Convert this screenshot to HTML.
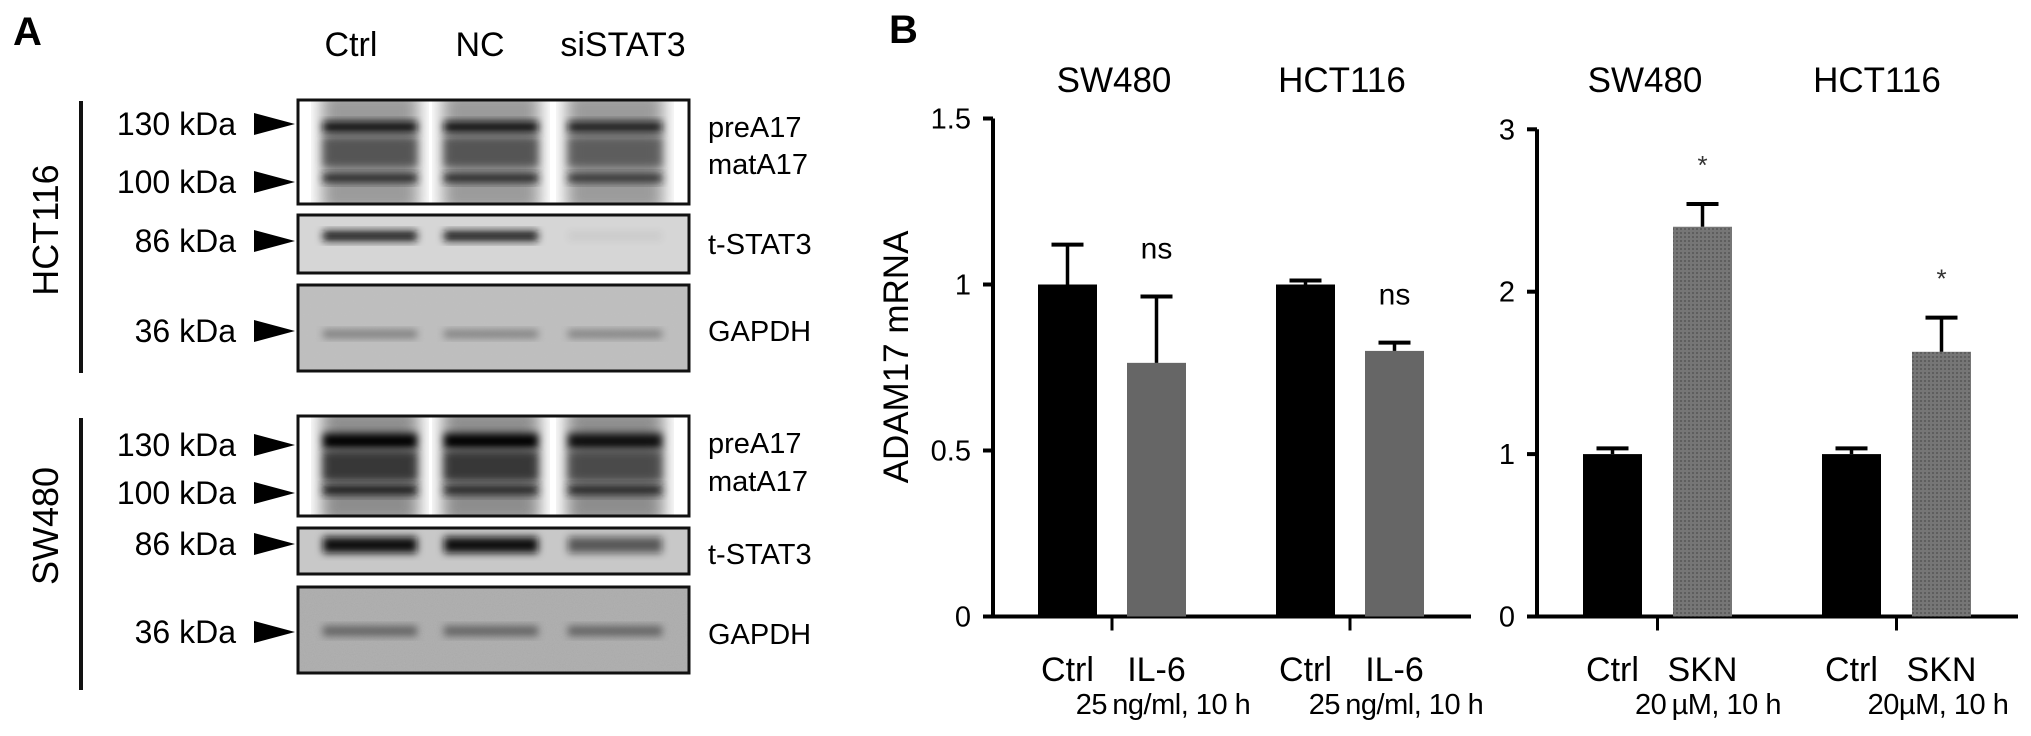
<!DOCTYPE html>
<html><head><meta charset="utf-8">
<style>
html,body{margin:0;padding:0;background:#fff;}
svg{display:block;font-family:"Liberation Sans",Arial,sans-serif;}
</style></head>
<body>
<svg id="fig" width="2031" height="736" viewBox="0 0 2031 736" xmlns="http://www.w3.org/2000/svg">
<defs>
  <filter id="blur3" x="-10%" y="-50%" width="120%" height="200%"><feGaussianBlur stdDeviation="4"/></filter>
  <filter id="blur6" x="-10%" y="-50%" width="120%" height="200%"><feGaussianBlur stdDeviation="8"/></filter>
  <filter id="noise" x="0" y="0" width="100%" height="100%">
    <feTurbulence type="fractalNoise" baseFrequency="0.9" numOctaves="2" seed="3"/>
    <feColorMatrix type="matrix" values="0 0 0 0 0.55  0 0 0 0 0.55  0 0 0 0 0.55  0 0 0 0.35 0"/>
  </filter>
  <pattern id="hatch" width="4" height="4" patternUnits="userSpaceOnUse">
    <rect width="4" height="4" fill="#767676"/><rect width="2" height="2" fill="#5e5e5e"/>
  </pattern>
</defs>

<!-- Panel A -->
<text x="13" y="45" font-size="40" font-weight="bold">A</text>
<text x="351" y="56" font-size="34" text-anchor="middle">Ctrl</text>
<text x="480" y="56" font-size="34" text-anchor="middle">NC</text>
<text x="623" y="56" font-size="34" text-anchor="middle">siSTAT3</text>

<rect x="79" y="101" width="4" height="272" fill="#111"/>
<text transform="translate(58,230) rotate(-90)" font-size="36" text-anchor="middle">HCT116</text>
<rect x="79" y="418" width="4" height="272" fill="#111"/>
<text transform="translate(58,526) rotate(-90)" font-size="36" text-anchor="middle">SW480</text>

<g id="blots"></g>
<g id="markers"></g>

<!-- Panel B -->
<text x="889" y="43" font-size="40" font-weight="bold">B</text>
<text transform="translate(908,357) rotate(-90)" font-size="35" text-anchor="middle">ADAM17 mRNA</text>
<text x="1114" y="92" font-size="35" text-anchor="middle">SW480</text>
<text x="1342" y="92" font-size="35" text-anchor="middle">HCT116</text>
<text x="1645" y="92" font-size="35" text-anchor="middle">SW480</text>
<text x="1877" y="92" font-size="35" text-anchor="middle">HCT116</text>
<g id="chart"></g>

<script>
const NS="http://www.w3.org/2000/svg";
// ---- Chart data ----
const leftCategories=["SW480 Ctrl","SW480 IL-6","HCT116 Ctrl","HCT116 IL-6"];
const leftValues=[1.00,0.764,1.00,0.80];
const leftErrors=[0.12,0.20,0.012,0.025];
const leftSig=["","ns","","ns"];
const leftTicks=[0,0.5,1,1.5];
const leftTickLabels=["0","0.5","1","1.5"];
const rightCategories=["SW480 Ctrl","SW480 SKN","HCT116 Ctrl","HCT116 SKN"];
const rightValues=[1.00,2.40,1.00,1.63];
const rightErrors=[0.035,0.14,0.035,0.21];
const rightSig=["","*","","*"];
const rightTicks=[0,1,2,3];
const rightTickLabels=["0","1","2","3"];
const leftXLabels=["Ctrl","IL-6","Ctrl","IL-6"];
const rightXLabels=["Ctrl","SKN","Ctrl","SKN"];
const leftSub=["25\u2009ng/ml, 10 h","25\u2009ng/ml, 10 h"];
const rightSub=["20\u2009\u00b5M, 10 h","20\u00b5M, 10 h"];

const chart=document.getElementById('chart');
function mk(tag,attrs,parent){const e=document.createElementNS(NS,tag);for(const k in attrs)e.setAttribute(k,attrs[k]);(parent||chart).appendChild(e);return e;}
const BASE=616.5;
function yL(v){return BASE-v*332;}
function yR(v){return BASE-v*162.4;}
function xL(i){return 1038+Math.floor(i/2)*238+(i%2)*89;}
function xR(i){return 1583+Math.floor(i/2)*239+(i%2)*90;}
const BW=59;

function drawChart(values,errors,sig,ticks,tickLabels,xf,yf,axisX,axisEnd,fills,prefix,xlabels,subs,subX){
  let ax=mk('line',{x1:axisX,y1:yf(ticks[ticks.length-1]),x2:axisX,y2:BASE,stroke:'#000','stroke-width':4});
  
  
  let xa=mk('line',{x1:axisX-10,y1:BASE,x2:axisEnd,y2:BASE,stroke:'#000','stroke-width':4});
  
  
  ticks.forEach((t,i)=>{
    let tk=mk('line',{x1:axisX-10,y1:yf(t),x2:axisX,y2:yf(t),stroke:'#000','stroke-width':4});
    
    
    let tl=mk('text',{x:axisX-22,y:yf(t)+10,'font-size':29,'text-anchor':'end'});
    tl.textContent=tickLabels[i];
    
    
  });
  values.forEach((v,i)=>{
    const x=xf(i),top=yf(v),errTop=yf(v+errors[i]),cx=x+BW/2;
    let b=mk('rect',{x:x,y:top,width:BW,height:BASE-top,fill:fills[i%2]});
    
    
    let el=mk('line',{x1:cx,y1:top,x2:cx,y2:errTop,stroke:'#000','stroke-width':3.5});
    
    
    let cap=mk('line',{x1:cx-16,y1:errTop,x2:cx+16,y2:errTop,stroke:'#000','stroke-width':4});
    
    
    if(sig[i]){
      const isStar=sig[i]==='*';
      let s=mk('text',{x:cx,y:errTop-(isStar?30:38),'font-size':isStar?26:30,'text-anchor':'middle',fill:isStar?'#333':'#000'});
      s.textContent=sig[i];
      
      
    }
    let xl=mk('text',{x:cx,y:681,'font-size':34,'text-anchor':'middle'});
    xl.textContent=xlabels[i];
    
    
  });
  for(let g=0;g<2;g++){
    const mx=(xf(2*g)+BW+xf(2*g+1))/2;
    let tk=mk('line',{x1:mx,y1:BASE,x2:mx,y2:BASE+14,stroke:'#000','stroke-width':3});
    
    
    let st=mk('text',{x:subX[g],y:714,'font-size':29,'text-anchor':'middle','letter-spacing':'-0.5'});
    st.textContent=subs[g];
    
    
  }
}
drawChart(leftValues,leftErrors,leftSig,leftTicks,leftTickLabels,xL,yL,993,1471,['#000','#666'],'left',leftXLabels,leftSub,[1163,1396]);
drawChart(rightValues,rightErrors,rightSig,rightTicks,rightTickLabels,xR,yR,1537,2018,['#000','url(#hatch)'],'right',rightXLabels,rightSub,[1708,1938]);

// ---- Western blots ----
const blots=document.getElementById('blots');
const laneX=[319,440,564];
const LW=102;
function bk(tag,attrs,parent){const e=document.createElementNS(NS,tag);for(const k in attrs)e.setAttribute(k,attrs[k]);parent.appendChild(e);return e;}
const boxes=[
 {y:100,h:104,bg:'#fff',name:'hct116-adam17-blot',lane:'#8a8a8a',bands:[[127,11,'#111',[1,1,0.9]],[178,9,'#1a1a1a',[0.95,0.95,0.85]],[152,30,'#4a4a4a',[0.85,0.85,0.75]]]},
 {y:215,h:58,bg:'#d6d6d6',name:'hct116-stat3-blot',lane:null,bands:[[236,10,'#151515',[1,1,0.05]]]},
 {y:285,h:86,bg:'#bdbdbd',name:'hct116-gapdh-blot',noise:true,lane:null,bands:[[334,8,'#6a6a6a',[0.8,0.75,0.75]]]},
 {y:416,h:100,bg:'#fff',name:'sw480-adam17-blot',lane:'#7a7a7a',bands:[[441,15,'#000',[1,1,0.9]],[490,10,'#1a1a1a',[1,0.9,0.9]],[466,30,'#2e2e2e',[0.9,0.9,0.7]]]},
 {y:528,h:46,bg:'#c8c8c8',name:'sw480-stat3-blot',lane:null,bands:[[545,16,'#111',[1,1,0.6]]]},
 {y:587,h:86,bg:'#a9a9a9',name:'sw480-gapdh-blot',noise:true,lane:null,bands:[[631,10,'#5a5a5a',[0.9,0.9,0.9]]]}
];
boxes.forEach((b,bi)=>{
  const g=bk('g',{},blots);
  
  
  const clipId='clip'+bi;
  const cp=bk('clipPath',{id:clipId},g);
  bk('rect',{x:298,y:b.y,width:391,height:b.h},cp);
  const inner=bk('g',{'clip-path':'url(#'+clipId+')'},g);
  bk('rect',{x:298,y:b.y,width:391,height:b.h,fill:b.bg},inner);
  if(b.noise) bk('rect',{x:298,y:b.y,width:391,height:b.h,filter:'url(#noise)'},inner);
  laneX.forEach((lx,li)=>{
    if(b.lane) bk('rect',{x:lx+2,y:b.y-10,width:LW-4,height:b.h+20,fill:b.lane,filter:'url(#blur6)',opacity:0.85},inner);
    b.bands.forEach(bd=>{
      bk('rect',{x:lx+4,y:bd[0]-bd[1]/2,width:LW-8,height:bd[1],fill:bd[2],opacity:bd[3][li],filter:'url(#blur3)'},inner);
    });
  });
  bk('rect',{x:298,y:b.y,width:391,height:b.h,fill:'none',stroke:'#111','stroke-width':3},g);
});

// ---- kDa markers and blot labels ----
const markers=document.getElementById('markers');
const kdaLabels=["130 kDa","100 kDa","86 kDa","36 kDa","130 kDa","100 kDa","86 kDa","36 kDa"];
const kdaY=[124,182,241,331,445,493,544,632];
kdaLabels.forEach((t,i)=>{
  const tx=bk('text',{x:236,y:kdaY[i]+11,'font-size':32,'text-anchor':'end'},markers);
  tx.textContent=t;
  
  
  const ar=bk('polygon',{points:`254,${kdaY[i]-11} 295,${kdaY[i]} 254,${kdaY[i]+11}`,fill:'#000'},markers);
  
  
});
const protLabels=["preA17","matA17","t-STAT3","GAPDH","preA17","matA17","t-STAT3","GAPDH"];
const protY=[127,164,244,331,443,481,554,634];
protLabels.forEach((t,i)=>{
  const tx=bk('text',{x:708,y:protY[i]+10,'font-size':29},markers);
  tx.textContent=t;
  
  
});
</script>
</svg>
</body></html>
